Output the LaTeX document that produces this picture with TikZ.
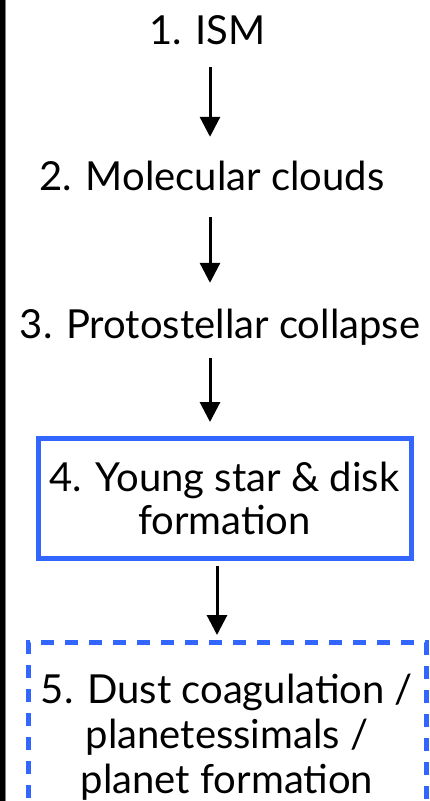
\documentclass[tikz,border=0pt]{standalone}
\usepackage{fontspec}
\setmainfont{Lato}
\usetikzlibrary{arrows.meta}
\definecolor{boxblue}{RGB}{51,102,255}
\tikzset{
  lbl/.style={inner sep=0pt, text depth=0pt, text height=30pt, font=\fontsize{40}{44}\selectfont},
  arr/.style={line width=3pt, -{Triangle[length=20pt,width=20pt]}},
  solidbox/.style={draw=boxblue, line width=5pt, minimum width=373pt, minimum height=120pt, align=center, inner sep=0pt, font=\fontsize{40}{43}\selectfont},
  dashbox/.style={draw=boxblue, line width=5pt, dash pattern=on 13pt off 11pt, minimum width=398pt, minimum height=190pt, align=center, inner sep=0pt, font=\fontsize{40}{45}\selectfont}
}
\begin{document}
\begin{tikzpicture}[x=1pt,y=1pt]
\clip (0,0) rectangle (429,-801);
\fill[white] (0,0) rectangle (429,-801);
\fill[black] (0,0) rectangle (5,-801);
\fill[gray] (5,0) rectangle (6,-801);

\node[lbl, anchor=base] (n1) at (207.5,-44) {1. ISM};
\node[lbl, anchor=base] (n2) at (212,-190) {2. Molecular clouds};
\node[lbl, anchor=base] (n3) at (220,-338) {3. Protostellar collapse};
\node[solidbox] (n4) at (224.5,-498.5) {4. Young star \& disk\\formation};
\node[dashbox, anchor=north] (n5) at (227,-640) {5. Dust coagulation /\\planetessimals /\\planet formation};

\draw[arr] ([xshift=2.5pt,yshift=-23pt]n1.south) -- ([xshift=-2pt,yshift=23pt]n2.north);
\draw[arr] ([xshift=-2pt,yshift=-27pt]n2.south) -- ([xshift=-10pt,yshift=25pt]n3.north);
\draw[arr] ([xshift=-10pt,yshift=-20pt]n3.south) -- ([xshift=-14.5pt,yshift=14pt]n4.north);
\draw[arr] ([xshift=-7.5pt,yshift=-5pt]n4.south) -- ([xshift=-10pt,yshift=5pt]n5.north);
\end{tikzpicture}
\end{document}
